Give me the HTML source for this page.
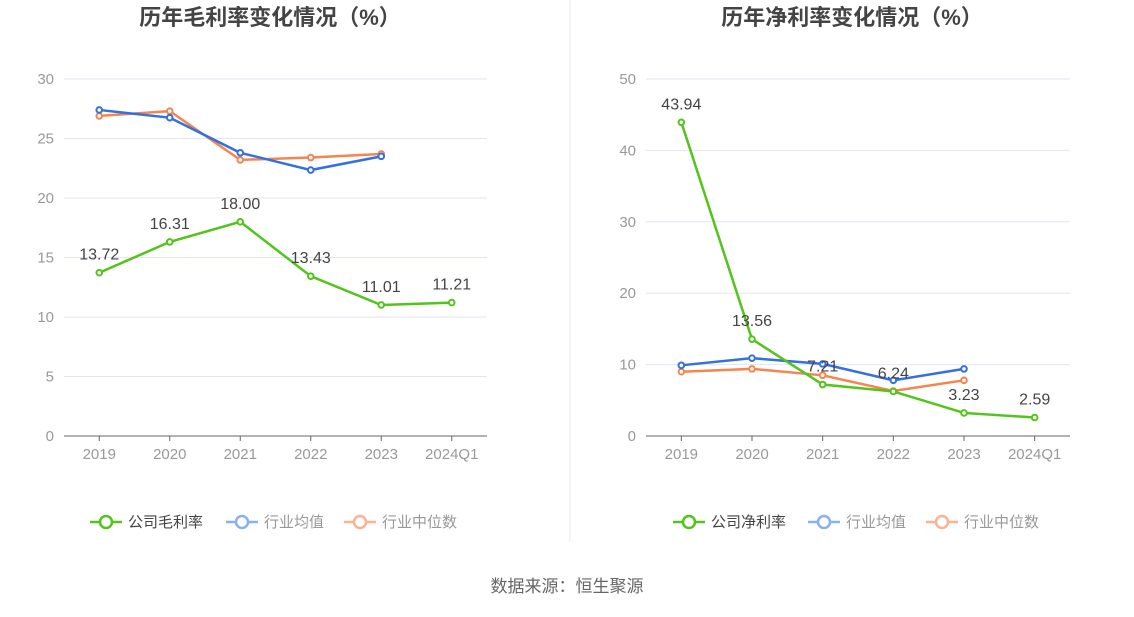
<!DOCTYPE html>
<html><head><meta charset="utf-8"><style>
body{margin:0;background:#fff;font-family:"Liberation Sans","Noto Sans CJK SC",sans-serif;}
svg text{font-family:"Liberation Sans","Noto Sans CJK SC",sans-serif;}
</style></head><body>
<svg id="root" width="1134" height="612" xmlns="http://www.w3.org/2000/svg">
<rect width="1134" height="612" fill="#fff"/>
<line x1="570" y1="0" x2="570" y2="542" stroke="#e8e8e8"/>
<text x="567" y="592" text-anchor="middle" font-size="17" fill="#666">数据来源：恒生聚源</text>
<g id="left"></g><g id="right"></g>
</svg>
<script>
const categories=["2019","2020","2021","2022","2023","2024Q1"];
const grossCompany=[13.72,16.31,18.00,13.43,11.01,11.21];
const grossAvg=[27.4,26.75,23.8,22.35,23.5];
const grossMedian=[26.9,27.3,23.2,23.4,23.7];
const netCompany=[43.94,13.56,7.21,6.24,3.23,2.59];
const netAvg=[9.9,10.9,10.1,7.8,9.4];
const netMedian=[9.0,9.4,8.5,6.3,7.8];
const grossTicks=[0,5,10,15,20,25,30];
const netTicks=[0,10,20,30,40,50];
const NS="http://www.w3.org/2000/svg";
function mk(p,t,a,txt){const e=document.createElementNS(NS,t);for(const k in a)e.setAttribute(k,a[k]);if(txt!=null)e.textContent=txt;p.appendChild(e);return e;}
function panel(g,cfg){
  const x0=cfg.x0,x1=cfg.x1,y0=436,yT=79,max=cfg.ticks[cfg.ticks.length-1];
  const step=(x1-x0)/categories.length;
  const X=i=>x0+step*(i+0.5);
  const Y=v=>y0-(v/max)*(y0-yT);
  const t=mk(g,'text',{x:cfg.cx,y:25,'text-anchor':'middle','font-size':22,'font-weight':'bold',fill:'#444'},cfg.title);
  
  
  cfg.ticks.forEach(v=>{
    if(v>0){const l=mk(g,'line',{x1:x0,x2:x1,y1:Y(v),y2:Y(v),stroke:'#e3e6ef'});
    
    }
    const tl=mk(g,'text',{x:x0-10,y:Y(v)+5,'text-anchor':'end','font-size':15,fill:'#999'},v);
    
    
  });
  const ax=mk(g,'line',{x1:x0,x2:x1,y1:y0,y2:y0,stroke:'#666'});
  
  
  categories.forEach((c,i)=>{
    mk(g,'line',{x1:X(i),x2:X(i),y1:y0,y2:y0+5,stroke:'#666'});
    const tl=mk(g,'text',{x:X(i),y:459,'text-anchor':'middle','font-size':15,fill:'#999'},c);
    
    
  });
  const order=[[cfg.med,'#f5854f','industry-median-line'],[cfg.avg,'#3370e0','industry-average-line'],[cfg.comp,'#52c41a','company-line']];
  order.forEach(([d,col,name])=>{
    const pl=mk(g,'polyline',{points:d.map((v,i)=>X(i)+','+Y(v)).join(' '),fill:'none',stroke:col,'stroke-width':2.5});
    
    
    d.forEach((v,i)=>{const c=mk(g,'circle',{cx:X(i),cy:Y(v),r:2.8,fill:'#fff',stroke:col,'stroke-width':2});
      
      });
  });
  cfg.comp.forEach((v,i)=>{
    const l=mk(g,'text',{x:X(i),y:Y(v)-13,'text-anchor':'middle','font-size':16,fill:'#444'},v.toFixed(2));
    
    
  });
  const leg=[[cfg.legX[0],'#52c41a',cfg.compName,'#444'],[cfg.legX[1],'#8ab0f0','行业均值','#999'],[cfg.legX[2],'#fbb394','行业中位数','#999']];
  leg.forEach(([lx,col,name,tc])=>{
    const lg=mk(g,'g',{});
    
    
    mk(lg,'line',{x1:lx,x2:lx+32,y1:522,y2:522,stroke:col,'stroke-width':2.5});
    mk(lg,'circle',{cx:lx+16,cy:522,r:6,fill:'#fff',stroke:col,'stroke-width':2.5});
    mk(lg,'text',{x:lx+38,y:527,'font-size':15,fill:tc},name);
  });
}
panel(document.getElementById('left'),{x0:64,x1:487,cx:270,title:'历年毛利率变化情况（%）',ticks:grossTicks,comp:grossCompany,avg:grossAvg,med:grossMedian,compName:'公司毛利率',legX:[90,226,344]});
panel(document.getElementById('right'),{x0:646,x1:1070,cx:852,title:'历年净利率变化情况（%）',ticks:netTicks,comp:netCompany,avg:netAvg,med:netMedian,compName:'公司净利率',legX:[673,808,926]});
</script>
</body></html>
